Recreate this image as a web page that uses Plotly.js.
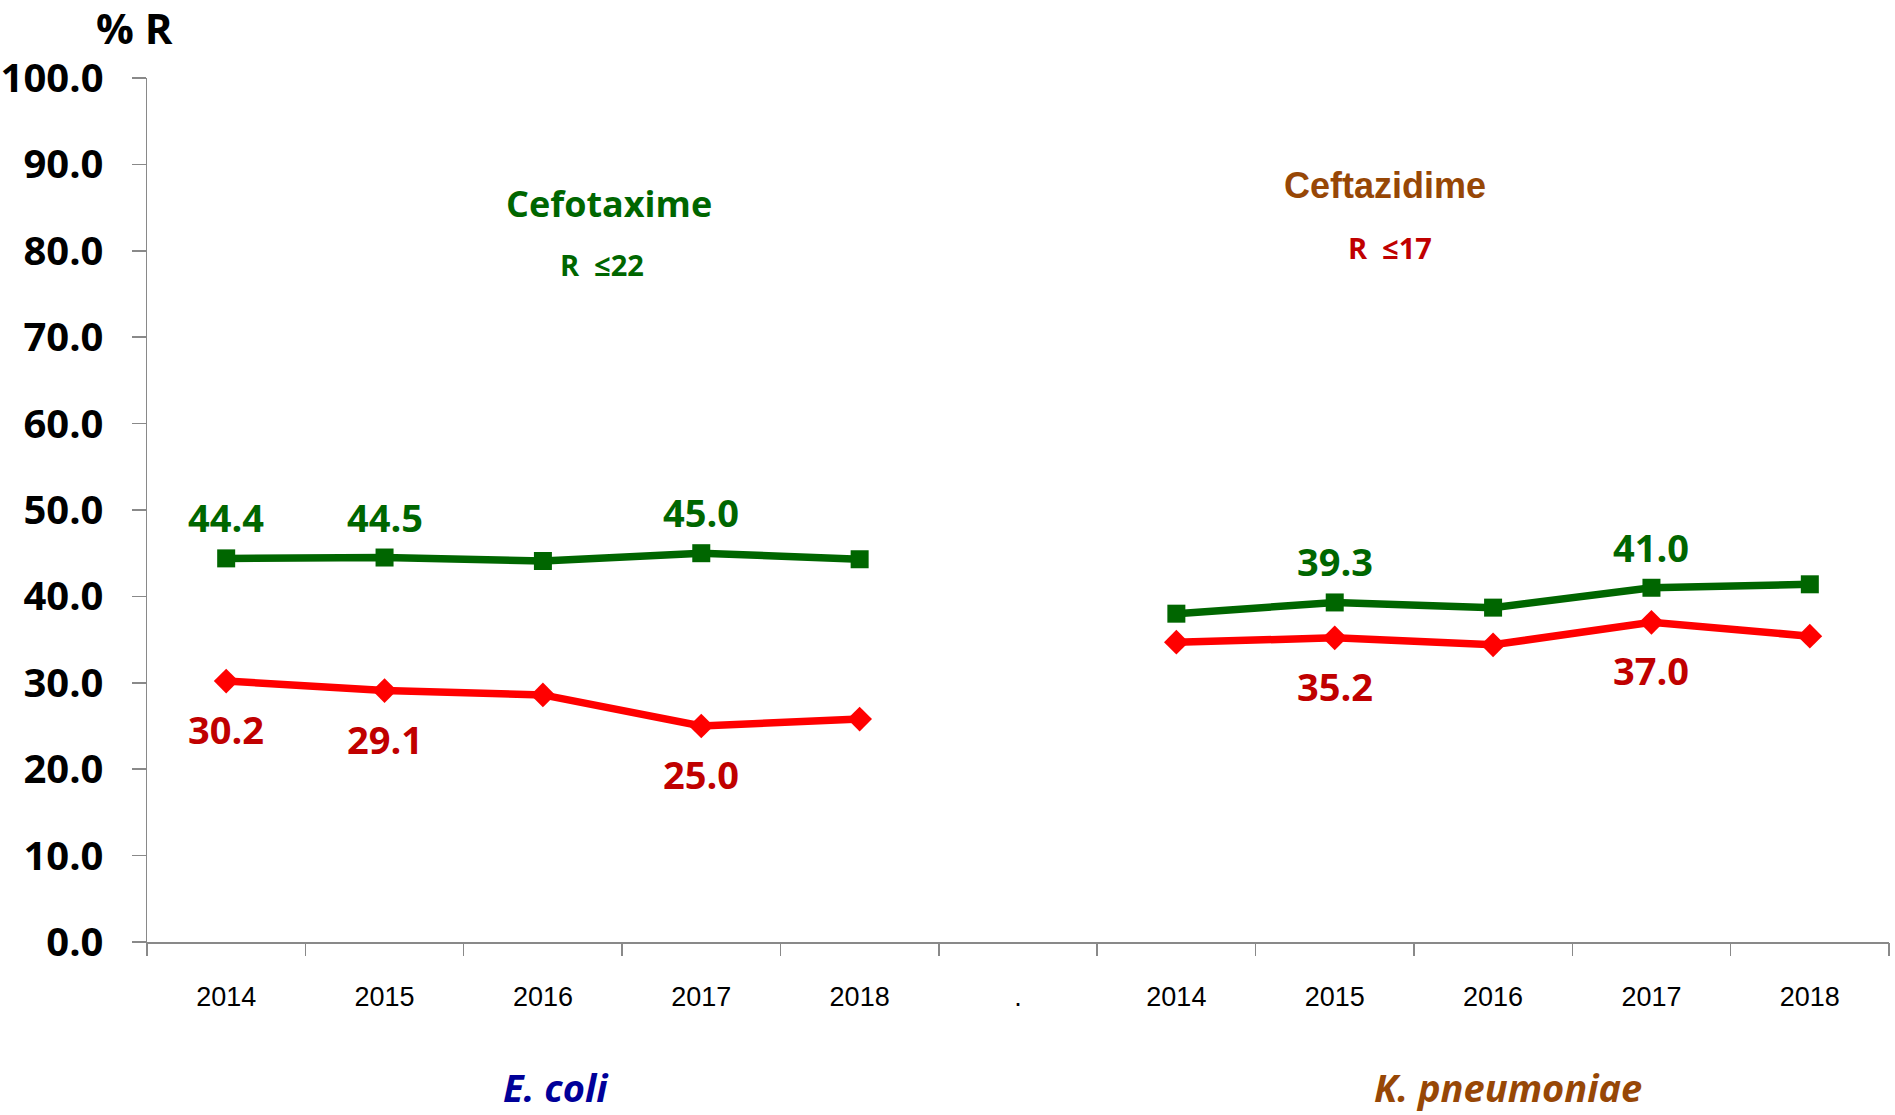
<!DOCTYPE html>
<html>
<head>
<meta charset="utf-8">
<script src="https://cdn.plot.ly/plotly-3.0.1.min.js"></script>
<style>html,body{margin:0;padding:0;background:#fff;}#chart{width:1895px;height:1115px;}</style>
</head>
<body>
<div id="chart"></div>
<script>
// ---- data ----
const years = ["2014", "2015", "2016", "2017", "2018"];
const separatorLabel = ".";
const ecoliCefotaxime = [44.4, 44.5, 44.1, 45.0, 44.3];
const ecoliCeftazidime = [30.2, 29.1, 28.6, 25.0, 25.8];
const kpneuCefotaxime = [38.0, 39.3, 38.7, 41.0, 41.4];
const kpneuCeftazidime = [34.7, 35.2, 34.4, 37.0, 35.4];
// which points carry a value label
const ecoliCefotaximeLabelled = [true, true, false, true, false];
const ecoliCeftazidimeLabelled = [true, true, false, true, false];
const kpneuCefotaximeLabelled = [false, true, false, true, false];
const kpneuCeftazidimeLabelled = [false, true, false, true, false];
const groupNames = ["E. coli", "K. pneumoniae"];
const drugNames = ["Cefotaxime", "Ceftazidime"];
const breakpoints = ["R  \u226422", "R  \u226417"];
const yAxisLabel = "% R";

// ---- layout helpers ----
const tickLabels = years.concat([separatorLabel], years);
const idx = tickLabels.map((_, i) => i);
const ecoliX = years.map((_, i) => i);
const kpneuX = years.map((_, i) => i + years.length + 1);
const boundaries = tickLabels.concat(["end"]).map((_, i) => i - 0.5);

const GREEN = "#006600", RED = "#FF0000", DARKRED = "#C00000", BROWN = "#974706", NAVY = "#000099";
const calib = "Open Sans, Lato, sans-serif";
const arial = "Liberation Sans, Arial, sans-serif";

function lineTrace(x, y, color, symbol, size) {
  return {
    x: x, y: y, type: "scatter", mode: "lines+markers",
    line: {color: color, width: 7.5},
    marker: {color: color, symbol: symbol, size: size},
    hoverinfo: "skip", showlegend: false
  };
}
const traces = [
  lineTrace(ecoliX, ecoliCefotaxime, GREEN, "square", 18),
  lineTrace(ecoliX, ecoliCeftazidime, RED, "diamond", 19),
  lineTrace(kpneuX, kpneuCefotaxime, GREEN, "square", 18),
  lineTrace(kpneuX, kpneuCeftazidime, RED, "diamond", 19),
  {x: [], y: [], xaxis: "x2", type: "scatter", mode: "lines", hoverinfo: "skip", showlegend: false}
];

function valueLabels(x, y, flags, color, shift) {
  const out = [];
  y.forEach((v, i) => {
    if (!flags[i]) return;
    out.push({
      x: x[i], y: v, xref: "x", yref: "y", text: v.toFixed(1), showarrow: false,
      xanchor: "center", yanchor: "middle", yshift: shift,
      font: {family: calib, size: 38, color: color, weight: 700}
    });
  });
  return out;
}

function label(x, y, ref, text, font) {
  return {x: x, y: y, xref: ref, yref: ref, text: text, showarrow: false,
          xanchor: "center", yanchor: "middle", font: font};
}

const annotations = []
  .concat(valueLabels(ecoliX, ecoliCefotaxime, ecoliCefotaximeLabelled, GREEN, 41))
  .concat(valueLabels(ecoliX, ecoliCeftazidime, ecoliCeftazidimeLabelled, DARKRED, -48))
  .concat(valueLabels(kpneuX, kpneuCefotaxime, kpneuCefotaximeLabelled, GREEN, 41))
  .concat(valueLabels(kpneuX, kpneuCeftazidime, kpneuCeftazidimeLabelled, DARKRED, -48))
  .concat([
    {x: 2.42, y: 85.5, xref: "x", yref: "y", text: drugNames[0], showarrow: false,
     xanchor: "center", yanchor: "middle",
     font: {family: calib, size: 36, color: GREEN, weight: 700}},
    {x: 2.37, y: 78.4, xref: "x", yref: "y", text: breakpoints[0], showarrow: false,
     xanchor: "center", yanchor: "middle",
     font: {family: calib, size: 29, color: GREEN, weight: 700}},
    {x: 7.32, y: 87.6, xref: "x", yref: "y", text: drugNames[1], showarrow: false,
     xanchor: "center", yanchor: "middle",
     font: {family: arial, size: 36, color: BROWN, weight: 700}},
    {x: 7.35, y: 80.4, xref: "x", yref: "y", text: breakpoints[1], showarrow: false,
     xanchor: "center", yanchor: "middle",
     font: {family: calib, size: 29, color: DARKRED, weight: 700}},
    label(0.2348, -0.168, "paper", groupNames[0],
          {family: calib, size: 38, color: NAVY, weight: 700, style: "italic"}),
    label(0.7813, -0.168, "paper", groupNames[1],
          {family: calib, size: 38, color: BROWN, weight: 700, style: "italic"}),
    label(-0.007, 1.059, "paper", yAxisLabel,
          {family: calib, size: 42, color: "#000", weight: 700})
  ]);

const layout = {
  width: 1895, height: 1115,
  margin: {l: 147, r: 6, t: 78, b: 173},
  paper_bgcolor: "#fff", plot_bgcolor: "#fff",
  showlegend: false,
  xaxis: {
    type: "linear", range: [-0.5, tickLabels.length - 0.5],
    tickmode: "array", tickvals: idx, ticktext: tickLabels,
    ticks: "", showgrid: false, zeroline: false,
    showline: true, linecolor: "#898989", linewidth: 1.5,
    tickfont: {family: arial, size: 27, color: "#000"},
    ticklabelstandoff: 30
  },
  xaxis2: {
    overlaying: "x", anchor: "y", side: "bottom", matches: "x",
    range: [-0.5, tickLabels.length - 0.5],
    tickmode: "array", tickvals: boundaries, showticklabels: false,
    ticks: "outside", ticklen: 13, tickcolor: "#898989", tickwidth: 1.5,
    showgrid: false, zeroline: false, showline: false
  },
  yaxis: {
    range: [0, 100], dtick: 10, tick0: 0, tickformat: ".1f",
    ticks: "outside", ticklen: 14, tickcolor: "#898989", tickwidth: 1.5,
    showline: true, linecolor: "#898989", linewidth: 1.5,
    showgrid: false, zeroline: false,
    tickfont: {family: calib, size: 40, color: "#000", weight: 700},
    ticklabelstandoff: 20
  },
  annotations: annotations
};

Plotly.newPlot("chart", traces, layout, {staticPlot: true, displayModeBar: false});
</script>
</body>
</html>
